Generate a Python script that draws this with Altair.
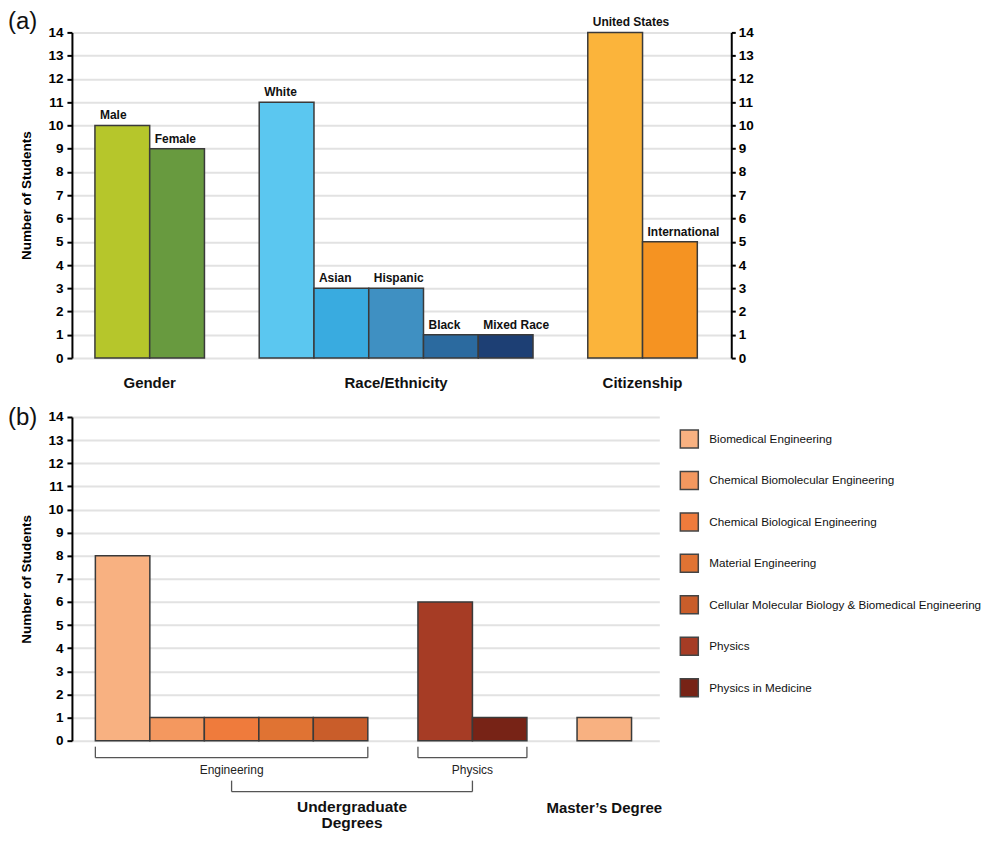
import altair as alt
import pandas as pd

FONT = "Liberation Sans"

# ---------------- Panel (a) data ----------------
group_names_a = ["Gender", "Race/Ethnicity", "Citizenship"]
gender_labels = ["Male", "Female"]
gender_counts = [10, 9]
race_labels = ["White", "Asian", "Hispanic", "Black", "Mixed Race"]
race_counts = [11, 3, 3, 1, 1]
citizenship_labels = ["United States", "International"]
citizenship_counts = [14, 5]
gender_colors = ["#B6C62B", "#689A3F"]
race_colors = ["#5BC7F0", "#39ABE0", "#3F90C2", "#2B6A9F", "#1D3F74"]
citizenship_colors = ["#FBB43B", "#F59322"]

# ---------------- Panel (b) data ----------------
majors = [
    "Biomedical Engineering",
    "Chemical Biomolecular Engineering",
    "Chemical Biological Engineering",
    "Material Engineering",
    "Cellular Molecular Biology & Biomedical Engineering",
    "Physics",
    "Physics in Medicine",
]
major_colors = ["#F8B181", "#F4985F", "#EF7B3C", "#E07333", "#C95D2A", "#A63C25", "#772316"]
engineering_majors = majors[:5]
engineering_counts = [8, 1, 1, 1, 1]
physics_majors = majors[5:]
physics_counts = [6, 1]
masters_majors = ["Biomedical Engineering"]
masters_counts = [1]
group_names_b = ["Engineering", "Physics", "Master’s Degree"]
undergrad_label = "Undergraduate\nDegrees"


def place(groups, gap):
    rows, spans = [], []
    pos = 0.0
    for name, labels, counts in groups:
        start = pos
        for lab, cnt in zip(labels, counts):
            rows.append({"group": name, "label": lab, "count": cnt, "x": pos, "x2": pos + 1})
            pos += 1
        spans.append({"group": name, "start": start, "end": pos, "mid": (start + pos) / 2})
        pos += gap
    return pd.DataFrame(rows), pd.DataFrame(spans)


df_a, spans_a = place(
    [(group_names_a[0], gender_labels, gender_counts),
     (group_names_a[1], race_labels, race_counts),
     (group_names_a[2], citizenship_labels, citizenship_counts)], 1.0)
df_a["color"] = gender_colors + race_colors + citizenship_colors

df_b, spans_b = place(
    [(group_names_b[0], engineering_majors, engineering_counts),
     (group_names_b[1], physics_majors, physics_counts),
     (group_names_b[2], masters_majors, masters_counts)], 0.92)

WA, HA = 660, 326
WB, HB = 588, 324

ticks = list(range(15))
axis_common = dict(
    values=ticks, format="d", domainColor="black", domainWidth=2,
    tickColor="black", tickWidth=2, labelFont=FONT, labelFontSize=13.5,
    labelFontWeight="bold", labelColor="black",
)
left_axis = alt.Axis(
    title="Number of Students", grid=True, gridColor="#E2E2E2", gridWidth=2,
    tickSize=5, labelPadding=4, titleFont=FONT, titleFontSize=13.5,
    titleFontWeight="bold", titleColor="black", titlePadding=14, **axis_common)
right_axis = alt.Axis(title=None, orient="right", grid=False, tickSize=4,
                      labelPadding=3, **axis_common)


def x_axis():
    return alt.Axis(title=None, labels=False, ticks=False, grid=False,
                    domainColor="black", domainWidth=2.5)


ya = alt.Scale(domain=[0, 14], nice=False, zero=True)
xa = alt.Scale(domain=[-0.42, 11.62], nice=False, zero=False)
yb = alt.Scale(domain=[0, 14], nice=False, zero=True)
xb = alt.Scale(domain=[-0.43, 10.35], nice=False, zero=False)

# ---------------- Panel (a) ----------------
bars_a = alt.Chart(df_a).mark_bar(stroke="#3a3a3a", strokeWidth=1.5).encode(
    x=alt.X("x:Q", scale=xa, axis=x_axis()),
    x2="x2:Q",
    y=alt.Y("count:Q", scale=ya, axis=left_axis),
    y2=alt.datum(0),
    fill=alt.Fill("color:N", scale=None),
)
right_a = alt.Chart(df_a).mark_point(opacity=0).encode(
    x=alt.X("x:Q", scale=xa, axis=None),
    y=alt.Y("count:Q", scale=ya, axis=right_axis),
)
labels_a = alt.Chart(df_a).mark_text(
    align="left", baseline="alphabetic", dx=5, dy=-6, font=FONT,
    fontSize=12, fontWeight="bold", color="#111",
).encode(x=alt.X("x:Q", scale=xa, axis=None),
         y=alt.Y("count:Q", scale=ya, axis=None), text="label:N")
groups_a = alt.Chart(spans_a).mark_text(
    align="center", baseline="alphabetic", font=FONT, fontSize=15,
    fontWeight="bold", color="#111",
).encode(x=alt.X("mid:Q", scale=xa, axis=None), y=alt.value(HA + 30), text="group:N")
tag_a = alt.Chart(pd.DataFrame({"t": ["(a)"]})).mark_text(
    align="left", baseline="top", font=FONT, fontSize=24, color="#111",
).encode(x=alt.value(-64), y=alt.value(-22), text="t:N")

panel_a = alt.layer(bars_a, right_a, labels_a, groups_a, tag_a).resolve_axis(
    y="independent").properties(width=WA, height=HA)

# ---------------- Panel (b) ----------------
bars_b = alt.Chart(df_b).mark_bar(stroke="#3a3a3a", strokeWidth=1.5).encode(
    x=alt.X("x:Q", scale=xb, axis=x_axis()),
    x2="x2:Q",
    y=alt.Y("count:Q", scale=yb, axis=left_axis),
    y2=alt.datum(0),
    color=alt.Color(
        "label:N",
        scale=alt.Scale(domain=majors, range=major_colors),
        legend=alt.Legend(
            title=None, orient="none", legendX=608, legendY=12, padding=0,
            symbolType="square", symbolSize=324, symbolStrokeColor="#444",
            symbolStrokeWidth=1.5, symbolOpacity=1, labelFont=FONT,
            labelFontSize=11.7, labelColor="#111", rowPadding=17.5,
            labelOffset=10, labelLimit=400),
    ),
)

sub = spans_b.iloc[:2].copy()
undergrad = pd.DataFrame({"start": [sub["mid"].iloc[0]], "end": [sub["mid"].iloc[1]],
                          "mid": [sub["mid"].mean()], "t": [undergrad_label]})
sub_ends = pd.DataFrame({"xv": list(sub["start"]) + list(sub["end"])})
und_ends = pd.DataFrame({"xv": [undergrad["start"].iloc[0], undergrad["end"].iloc[0]]})

BR = "#555555"
br_h = alt.Chart(sub).mark_rule(color=BR, strokeWidth=1.3).encode(
    x=alt.X("start:Q", scale=xb, axis=None), x2="end:Q", y=alt.value(HB + 17))
br_v = alt.Chart(sub_ends).mark_rule(color=BR, strokeWidth=1.3).encode(
    x=alt.X("xv:Q", scale=xb, axis=None), y=alt.value(HB + 6), y2=alt.value(HB + 17))
br_text = alt.Chart(sub).mark_text(
    baseline="alphabetic", font=FONT, fontSize=12, color="#222",
).encode(x=alt.X("mid:Q", scale=xb, axis=None), y=alt.value(HB + 33), text="group:N")
ug_h = alt.Chart(undergrad).mark_rule(color=BR, strokeWidth=1.3).encode(
    x=alt.X("start:Q", scale=xb, axis=None), x2="end:Q", y=alt.value(HB + 51))
ug_v = alt.Chart(und_ends).mark_rule(color=BR, strokeWidth=1.3).encode(
    x=alt.X("xv:Q", scale=xb, axis=None), y=alt.value(HB + 40), y2=alt.value(HB + 51))
ug_text = alt.Chart(undergrad).mark_text(
    baseline="alphabetic", font=FONT, fontSize=15.5, fontWeight="bold",
    color="#111", lineBreak="\n", lineHeight=16.5,
).encode(x=alt.X("mid:Q", scale=xb, axis=None), y=alt.value(HB + 71), text="t:N")
ms_text = alt.Chart(spans_b.iloc[2:]).mark_text(
    baseline="alphabetic", font=FONT, fontSize=15, fontWeight="bold", color="#111",
).encode(x=alt.X("mid:Q", scale=xb, axis=None), y=alt.value(HB + 72), text="group:N")
tag_b = alt.Chart(pd.DataFrame({"t": ["(b)"]})).mark_text(
    align="left", baseline="top", font=FONT, fontSize=24, color="#111",
).encode(x=alt.value(-64), y=alt.value(-11), text="t:N")

panel_b = alt.layer(bars_b, br_h, br_v, br_text, ug_h, ug_v, ug_text, ms_text,
                    tag_b).properties(width=WB, height=HB)

chart = alt.vconcat(panel_a, panel_b, spacing=15).resolve_scale(
    color="independent").resolve_legend(color="independent").configure_view(
    stroke=None).properties(
    padding={"left": 0, "top": 2, "right": 0, "bottom": 0}, background="white")

chart.save("out.html", embed_options={"renderer": "svg", "actions": False})
